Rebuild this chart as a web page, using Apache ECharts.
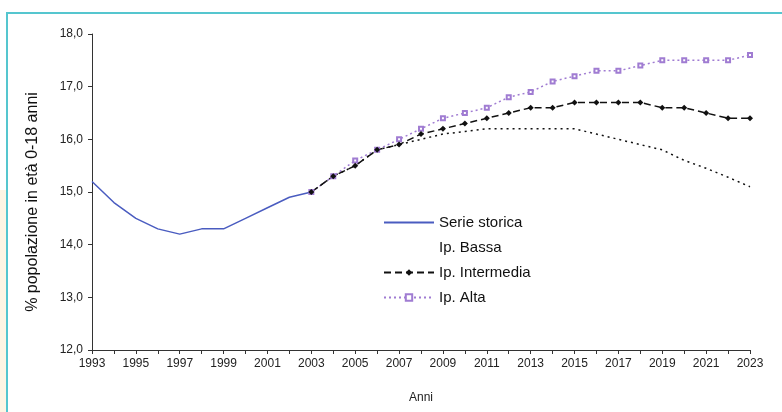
<!DOCTYPE html>
<html>
<head>
<meta charset="utf-8">
<script src="https://cdn.jsdelivr.net/npm/echarts@6/dist/echarts.min.js"></script>
<style>
  html, body { margin: 0; padding: 0; background: #fff; }
  #chart { width: 782px; height: 412px; }
</style>
</head>
<body>
<div id="chart"></div>
<script>
// Anni e serie
const anni = [];
for (let a = 1993; a <= 2023; a++) anni.push(String(a));

const serieStorica = [15.2, 14.8, 14.5, 14.3, 14.2, 14.3, 14.3, 14.5, 14.7, 14.9, 15.0];
const ipBassa = [15.0, 15.3, 15.5, 15.8, 15.9, 16.0, 16.1, 16.15, 16.2, 16.2, 16.2, 16.2, 16.2,
                 16.1, 16.0, 15.9, 15.8, 15.6, 15.45, 15.28, 15.1];
const ipIntermedia = [15.0, 15.3, 15.5, 15.8, 15.9, 16.1, 16.2, 16.3, 16.4, 16.5, 16.6, 16.6, 16.7,
                      16.7, 16.7, 16.7, 16.6, 16.6, 16.5, 16.4, 16.4];
const ipAlta = [15.0, 15.3, 15.6, 15.8, 16.0, 16.2, 16.4, 16.5, 16.6, 16.8, 16.9, 17.1, 17.2,
                17.3, 17.3, 17.4, 17.5, 17.5, 17.5, 17.5, 17.6];

// allinea le serie sull'asse degli anni
const storica = anni.map((a, i) => i < serieStorica.length ? serieStorica[i] : null);
const inizioProiezione = 10; // 2003
const pad = arr => anni.map((a, i) => i >= inizioProiezione ? arr[i - inizioProiezione] : null);

const chart = echarts.init(document.getElementById('chart'));
const font = 'Liberation Sans, Arial, sans-serif';

chart.setOption({
  animation: false,
  textStyle: { fontFamily: font },
  graphic: [
    { type: 'rect', shape: { x: 0, y: 190, width: 6, height: 222 }, style: { fill: '#fdf5e4' }, silent: true },
    { type: 'rect', shape: { x: 7, y: 13, width: 800, height: 420 },
      style: { fill: 'none', stroke: '#55c6cf', lineWidth: 2 }, silent: true },
    // titolo asse y
    { type: 'text', x: 33, y: 202, rotation: Math.PI / 2, silent: true,
      style: { text: '% popolazione in età 0-18 anni', fontFamily: font, fontSize: 16,
               fill: '#111', align: 'center', verticalAlign: 'middle' } }
  ],
  grid: { left: 92, top: 34, right: 32, bottom: 62 },
  legend: {
    orient: 'vertical',
    left: 378,
    top: 210,
    itemWidth: 50,
    itemHeight: 8,
    itemGap: 10,
    textStyle: { fontFamily: font, fontSize: 15, color: '#111' },
    data: [
      { name: 'Serie storica', itemStyle: { opacity: 0 } },
      { name: 'Ip. Bassa', lineStyle: { opacity: 0 }, itemStyle: { opacity: 0 } },
      { name: 'Ip. Intermedia' },
      { name: 'Ip. Alta' }
    ]
  },
  xAxis: {
    type: 'category',
    data: anni,
    boundaryGap: false,
    name: 'Anni',
    nameLocation: 'middle',
    nameGap: 42,
    nameTextStyle: { fontSize: 12, color: '#222' },
    axisLine: { lineStyle: { color: '#333', width: 1 } },
    axisTick: { interval: 0, length: 4, lineStyle: { color: '#333' } },
    axisLabel: { interval: 1, fontSize: 12, color: '#222', margin: 8 }
  },
  yAxis: {
    type: 'value',
    min: 12,
    max: 18,
    interval: 1,
    axisLine: { show: true, lineStyle: { color: '#333', width: 1 } },
    axisTick: { show: true, length: 4, lineStyle: { color: '#333' } },
    splitLine: { show: false },
    axisLabel: {
      fontSize: 12, color: '#222', margin: 9,
      formatter: v => v.toFixed(1).replace('.', ',')
    }
  },
  series: [
    {
      name: 'Serie storica', type: 'line', data: storica,
      showSymbol: false,
      lineStyle: { color: '#4a5cc0', width: 1.5 },
      itemStyle: { color: '#4a5cc0' }
    },
    {
      name: 'Ip. Bassa', type: 'line', data: pad(ipBassa),
      symbol: 'none',
      lineStyle: { color: '#111', width: 1.5, type: [2, 4] },
      itemStyle: { color: '#111' }
    },
    {
      name: 'Ip. Alta', type: 'line', data: pad(ipAlta),
      symbol: 'emptyRect', symbolSize: 4,
      lineStyle: { color: '#a07cd2', width: 1.5, type: [2, 3] },
      itemStyle: { color: '#a07cd2', borderWidth: 1 }
    },
    {
      name: 'Ip. Intermedia', type: 'line', data: pad(ipIntermedia),
      symbol: 'diamond', symbolSize: 6,
      lineStyle: { color: '#111', width: 1.5, type: [7, 4] },
      itemStyle: { color: '#111' }
    }
  ]
});
</script>
</body>
</html>
